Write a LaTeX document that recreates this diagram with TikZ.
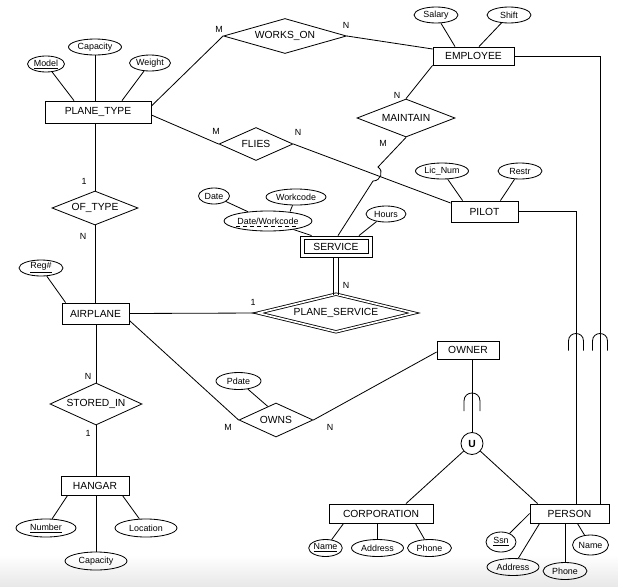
\documentclass[tikz,border=0pt]{standalone}
\usepackage{fontspec}
\setmainfont{Liberation Sans}
\usetikzlibrary{shapes.geometric,calc}
\newcommand\entf{\fontsize{8.8}{10}\selectfont}
\newcommand\attf{\fontsize{7.6}{9}\selectfont}
\newcommand\capsym[3]{\draw (#1-#3,#2+#3+2) -- (#1-#3,#2) .. controls (#1-#3,#2-1.33*#3) and (#1+#3,#2-1.33*#3) .. (#1+#3,#2) -- (#1+#3,#2+#3+2);}
\begin{document}
\begin{tikzpicture}[x=0.03cm, y=-0.03cm, line width=0.7pt,
 ent/.style 2 args={draw, rectangle, minimum width=#1*0.03cm, minimum height=#2*0.03cm, inner sep=0pt, font=\entf},
 rel/.style 2 args={draw, diamond, aspect=3, minimum width=#1*0.03cm, minimum height=#2*0.03cm, inner sep=0pt, font=\entf},
 attr/.style 2 args={draw, ellipse, minimum width=#1*0.03cm, minimum height=#2*0.03cm, inner sep=0pt, font=\attf},
 card/.style={font=\attf, inner sep=0pt},
 dbldia/.style={double, double distance=0.05cm}]
\useasboundingbox (0,0) rectangle (618,586);
\shade[top color=white, bottom color=gray!18] (0,555) rectangle (618,586);

% entities
\node[ent={106}{22}] (pt) at (98,112) {PLANE\_TYPE};
\node[ent={81}{18}] (emp) at (473.5,56) {EMPLOYEE};
\node[ent={67}{21}] (pil) at (484.5,211.5) {PILOT};
\node[ent={72}{21}] (srv) at (336,246.5) {SERVICE};
\draw ($(srv.north west)+(4.5,3.7)$) rectangle ($(srv.south east)+(-4.5,-3.7)$);
\node[ent={67}{21}] (ap) at (95.5,313.5) {AIRPLANE};
\node[ent={62}{18}] (own) at (468,350) {OWNER};
\node[ent={68}{19}] (hg) at (95,485.5) {HANGAR};
\node[ent={104}{19}] (corp) at (381,513.5) {CORPORATION};
\node[ent={79}{19}] (per) at (569.5,513.5) {PERSON};

% relationships
\node[rel={123}{35}] (wo) at (285,36) {WORKS\_ON};
\node[rel={98}{38}] (mt) at (406,118) {MAINTAIN};
\node[rel={74}{33}] (fl) at (256,144) {FLIES};
\node[rel={86}{34}] (ot) at (95,208) {OF\_TYPE};
\node[rel={92}{42}] (si) at (96,404) {STORED\_IN};
\node[rel={156}{38}, dbldia] (ps) at (336,313) {PLANE\_SERVICE};
\node[rel={74}{34}] (os) at (276,420) {OWNS};
\node[draw, circle, minimum size=22*0.03cm, inner sep=0pt, font=\entf\bfseries] (uu) at (472,443.5) {U};

% attributes
\node[attr={37}{16}] (model) at (46,64) {\underline{Model}};
\node[attr={53}{16}] (cap) at (95,47) {Capacity};
\node[attr={41}{16}] (wt) at (150,63) {Weight};
\node[attr={44}{16}] (sal) at (436,15) {Salary};
\node[attr={44}{16}] (shf) at (509,15) {Shift};
\node[attr={53}{16}] (lic) at (442,171) {Lic\_Num};
\node[attr={44}{16}] (res) at (520,171) {Restr};
\node[attr={31}{16}] (date) at (214,196) {Date};
\node[attr={60}{16}] (wc) at (296,197) {Workcode};
\node[attr={88}{20}] (dw) at (268,221) {Date/Workcode};
\node[attr={40}{16}] (hrs) at (386,214) {Hours};
\node[attr={44}{16}] (reg) at (41,268) {\underline{Reg\#}};
\node[attr={45}{17}] (pd) at (238.5,381) {Pdate};
\node[attr={60}{18}] (num) at (46,528) {\underline{Number}};
\node[attr={62}{18}] (loc) at (146,528) {Location};
\node[attr={62}{18}] (hcap) at (96,561) {Capacity};
\node[attr={31}{17}] (cname) at (325.5,548) {\underline{Name}};
\node[attr={52}{17}] (cadd) at (377.5,548) {Address};
\node[attr={44}{17}] (cph) at (429.5,548) {Phone};
\node[attr={30}{20}] (ssn) at (501,542) {\underline{Ssn}};
\node[attr={52}{17}] (padd) at (513,567) {Address};
\node[attr={44}{17}] (pph) at (565,571) {Phone};
\node[attr={36}{20}] (pname) at (590.5,545) {Name};
\draw[dashed, line width=0.5pt] ($(dw.center)+(-32,5)$) -- ($(dw.center)+(31,5)$);

% cardinalities
\node[card] (c1) at (219,29) {M};
\node[card] (c2) at (346,25) {N};
\node[card] (c3) at (216,131) {M};
\node[card] (c4) at (298,132) {N};
\node[card] (c5) at (397,95) {N};
\node[card] (c6) at (383,143) {M};
\node[card] (c7) at (84,181) {1};
\node[card] (c8) at (83,236) {N};
\node[card] (c9) at (88,376) {N};
\node[card] (c10) at (88,433) {1};
\node[card] (c11) at (253,302) {1};
\node[card] (c12) at (346,285) {N};
\node[card] (c13) at (228,427) {M};
\node[card] (c14) at (330,427) {N};

% connectors
\draw (model) -- ($(pt.north)+(-24,0)$);
\draw (cap) -- (cap |- pt.north);
\draw (wt) -- ($(pt.north)+(24,0)$);
\draw ($(pt.east)+(0,-6)$) -- (wo.west);
\draw ($(pt.east)+(0,3)$) -- (fl.west);
\draw (ot.north) -- (ot.north |- pt.south);
\draw (wo.east) -- ($(emp.west)+(0,-7)$);
\draw (sal) -- ($(emp.north)+(-18.5,0)$);
\draw (shf) -- ($(emp.north)+(5.5,0)$);
\draw (emp.south west) -- (mt.north);
\draw (emp.east) -| ($(per.north)+(30.5,0)$);
\draw (pil.east) -| ($(per.north)+(6.5,0)$);
\draw (fl.east) -- ($(pil.west)+(0,-8.5)$);
\draw (lic) -- ($(pil.north west)+(12,0)$);
\draw (res) -- ($(pil.north east)+(-18,0)$);
\draw (mt.south) -- (378,167) .. controls (384,171) and (381,181) .. (373,181) -- ($(srv.north)+(2,0)$);
\draw (date) -- (dw);
\draw (wc) -- ($(dw.north)+(22,1)$);
\draw (dw) -- ($(srv.north west)+(12,0)$);
\draw (hrs) -- ($(srv.north)+(23,0)$);
\draw ($(srv.south)+(-2.3,0)$) -- ($(ps.north)+(-2.3,1)$);
\draw ($(srv.south)+(2.3,0)$) -- ($(ps.north)+(2.3,1)$);
\draw (ap.east) -- (ps.west);
\draw (reg) -- ($(ap.north west)+(4,0)$);
\draw (ot.south) -- (ot.south |- ap.north);
\draw (si.north) -- (si.north |- ap.south);
\draw (si.south) -- (si.south |- hg.north);
\draw ($(ap.east)+(0,7)$) -- (os.west);
\draw (pd) -- ($(os.west)!0.78!(os.north)$);
\draw (os.east) -- ($(own.west)+(0,2)$);
\draw (uu.north) -- (uu.north |- own.south);
\draw (uu) -- ($(corp.north)+(25,0)$);
\draw (uu) -- ($(per.north west)+(8,0)$);
\draw (num) -- ($(hg.south west)+(7,0)$);
\draw (loc) -- ($(hg.south east)+(-7,0)$);
\draw (hcap) -- (hcap |- hg.south);
\draw (cname) -- ($(corp.south west)+(15,0)$);
\draw (cadd) -- (cadd |- corp.south);
\draw (cph) -- ($(corp.south east)+(-18,0)$);
\draw (ssn) -- (per.west);
\draw (padd) -- ($(per.south west)+(10,0)$);
\draw (pph) -- (pph |- per.south);
\draw (pname) -- ($(per.south east)+(-32,0)$);

% subset symbols
\capsym{472}{401}{8}
\capsym{576}{341}{7.5}
\capsym{600}{341}{7.5}
\end{tikzpicture}
\end{document}
